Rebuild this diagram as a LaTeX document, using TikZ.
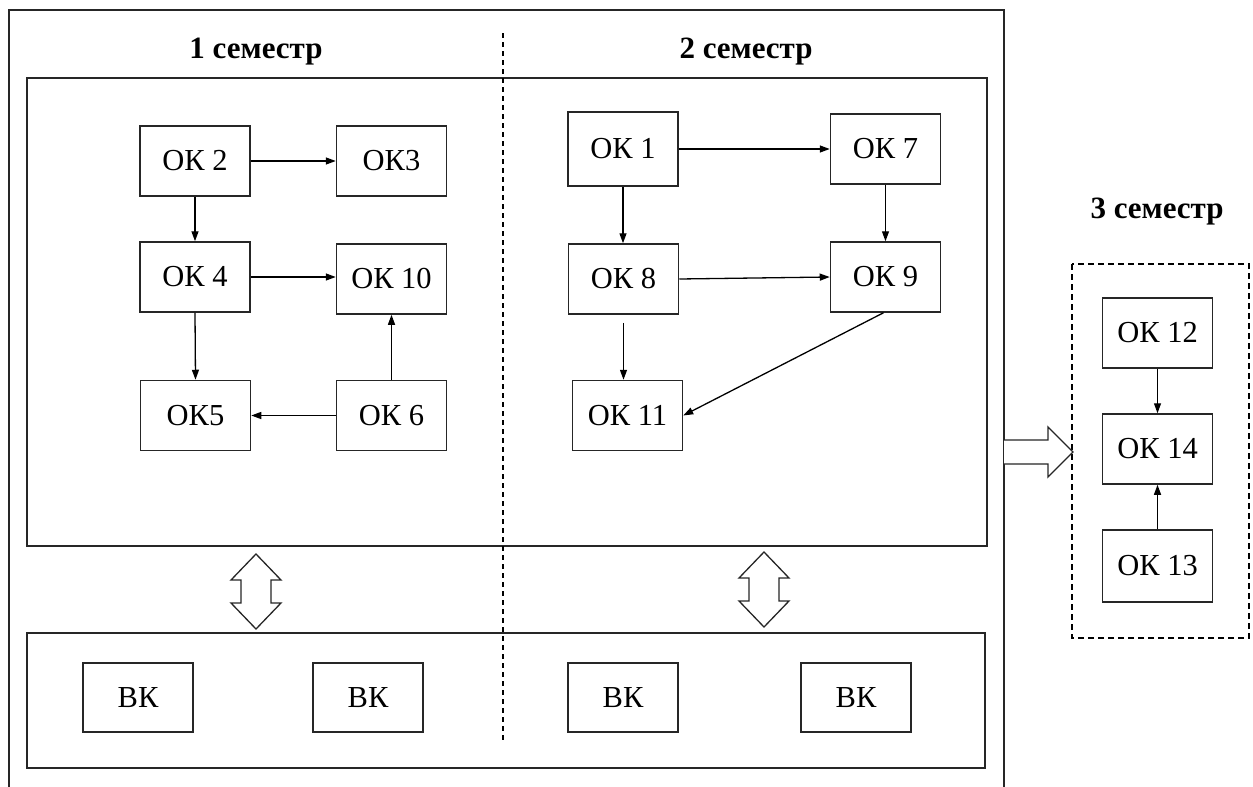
\documentclass[tikz,border=0pt]{standalone}
\usepackage{fontspec}
\setmainfont{Liberation Serif}
\usetikzlibrary{arrows.meta}
\begin{document}
\begin{tikzpicture}[x=1pt,y=-1pt,
  frame/.style={draw=black!85,line width=1.5pt},
  okbox/.style={draw=black!85,line width=1.5pt,minimum width=110pt,minimum height=70pt,inner sep=0pt,font=\fontsize{30.5}{34}\selectfont},
  sem/.style={font=\fontsize{31}{34}\selectfont\bfseries},
  conn/.style={draw=black,line width=1.3pt,-{Triangle[length=10pt,width=7pt]}},
  dline/.style={draw=black,line width=1.3pt,dash pattern=on 5pt off 4pt},
  bigarrow/.style={draw=black!85,line width=1.3pt,fill=white,line join=miter}]
\useasboundingbox (0,0) rectangle (1253,787);
% outer frame (open at bottom)
\draw[frame] (9,787) -- (9,10) -- (1004,10) -- (1004,787);
% inner boxes
\draw[frame] (27,78) rectangle (987,546);
\draw[frame] (27,633) rectangle (985,768);
% separator
\draw[dline] (503,33) -- (503,742);
% titles
\node[sem] (t1) at (256,52) {1 семестр};
\node[sem] (t2) at (746,52) {2 семестр};
\node[sem] (t3) at (1157,212) {3 семестр};
% semester 1
\node[okbox] (ok2) at (195,161) {ОК 2};
\node[okbox] (ok3) at (391.5,161) {ОК3};
\node[okbox] (ok4) at (195,277) {ОК 4};
\node[okbox] (ok10) at (391.5,279) {ОК 10};
\node[okbox] (ok5) at (195.5,415.5) {ОК5};
\node[okbox] (ok6) at (391.5,415.5) {ОК 6};
% semester 2
\node[okbox,minimum height=74pt] (ok1) at (623,149) {ОК 1};
\node[okbox] (ok7) at (885.5,149) {ОК 7};
\node[okbox] (ok8) at (623.5,279) {ОК 8};
\node[okbox] (ok9) at (885.5,277) {ОК 9};
\node[okbox] (ok11) at (627.5,415.5) {ОК 11};
% semester 3
\draw[dline,dash pattern=on 6pt off 4pt] (1072,264) rectangle (1249,638);
\node[okbox] (ok12) at (1157.5,333) {ОК 12};
\node[okbox] (ok14) at (1157.5,449) {ОК 14};
\node[okbox,minimum height=72pt] (ok13) at (1157.5,566) {ОК 13};
% BK
\node[okbox,minimum height=69pt] (bk1) at (138,697.5) {ВК};
\node[okbox,minimum height=69pt] (bk2) at (368,697.5) {ВК};
\node[okbox,minimum height=69pt] (bk3) at (623,697.5) {ВК};
\node[okbox,minimum height=69pt] (bk4) at (856,697.5) {ВК};
% connectors semester 1
\draw[conn] (ok2.east) -- (ok3.west);
\draw[conn] (ok2.south) -- (ok4.north);
\draw[conn] (ok4.east) -- (ok4.east -| ok10.west);
\draw[conn] (ok4.south) -- (ok5.north);
\draw[conn] (ok6.west) -- (ok6.west -| ok5.east);
\draw[conn] (ok6.north) -- (ok10.south);
% connectors semester 2
\draw[conn] (ok1.east) -- (ok1.east -| ok7.west);
\draw[conn] (ok1.south) -- (ok1.south |- ok8.north);
\draw[conn] (ok7.south) -- (ok9.north);
\draw[conn] (ok8.east) -- (ok9.west);
\draw[conn,shorten <=8pt] (ok8.south) -- (ok8.south |- ok11.north);
\draw[conn] ([xshift=-2pt]ok9.south) -- (ok11.east);
% connectors semester 3
\draw[conn] (ok12.south) -- (ok14.north);
\draw[conn] (ok13.north) -- (ok14.south);
% double arrows
\draw[bigarrow] (256,554) -- (281,580) -- (271,580) -- (271,603) -- (281,603) -- (256,629)
  -- (231,603) -- (241,603) -- (241,580) -- (231,580) -- cycle;
\draw[bigarrow] (764,552) -- (789,578) -- (779,578) -- (779,601) -- (789,601) -- (764,627)
  -- (739,601) -- (749,601) -- (749,578) -- (739,578) -- cycle;
% arrow to semester 3
\draw[bigarrow] (1004,440) -- (1048,440) -- (1048,427) -- (1073,452) -- (1048,477) -- (1048,464) -- (1004,464);
\end{tikzpicture}
\end{document}
